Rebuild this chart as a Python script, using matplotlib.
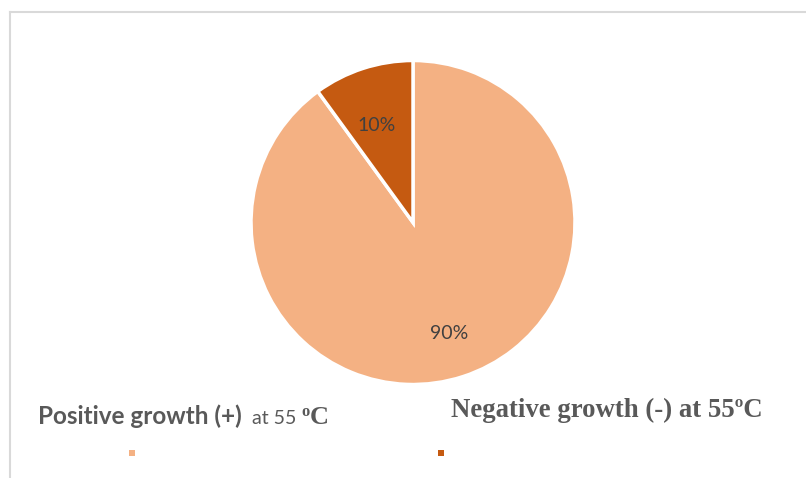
import matplotlib
matplotlib.use("Agg")
import matplotlib.pyplot as plt
from matplotlib.lines import Line2D
import numpy as np

# Share of isolates by growth response at 55 °C
categories = ["Positive growth (+)", "Negative growth (-)"]
shares = [90, 10]
colors = ["#F4B183", "#C55A11"]

W, H = 806, 478
fig = plt.figure(figsize=(W / 100, H / 100), dpi=100)
fig.patch.set_facecolor("white")


def fx(px):
    return px / W


def fy(py):
    return 1 - py / H


# light frame along the top and left edges
fig.add_artist(Line2D([fx(10), 1], [fy(12), fy(12)], color="#D9D9D9", lw=1.5))
fig.add_artist(Line2D([fx(10), fx(10)], [fy(12), 0], color="#D9D9D9", lw=1.5))

# pie occupies a square region centred around (413, 222)
cx, cy, r = 413, 222.5, 162
ax = fig.add_axes([fx(cx - r), fy(cy + r), 2 * r / W, 2 * r / H])
wedges, _ = ax.pie(shares, colors=colors, startangle=90, counterclock=False,
                   wedgeprops=dict(edgecolor="white", linewidth=2.5))
ax.set_xlim(-1, 1)
ax.set_ylim(-1, 1)
ax.set_aspect("auto")
ax.axis("off")

label_dist = [0.72, 0.63]
for w, v, d in zip(wedges, shares, label_dist):
    mid = np.deg2rad((w.theta1 + w.theta2) / 2)
    ax.text(d * np.cos(mid) - (0.03 if v < 50 else 0), d * np.sin(mid), f"{v}%",
            ha="center", va="center", fontsize=14, color="#404040", family="Lato")

# legend-style captions under the pie
fig.canvas.draw()
renderer = fig.canvas.get_renderer()


def run(x_px, y_px, pieces):
    x = x_px
    for txt, kw, dy in pieces:
        t = fig.text(fx(x), fy(y_px - dy), txt, ha="left", va="baseline",
                     color="#595959", **kw)
        bb = t.get_window_extent(renderer)
        x += bb.width


sans_b = dict(family="Lato", fontweight="bold", fontsize=17.5)
sans_r = dict(family="Lato", fontsize=14)
serif_b = dict(family="Liberation Serif", fontweight="bold", fontsize=19)
serif_small = dict(family="Liberation Serif", fontweight="bold", fontsize=12)

run(38, 424, [("Positive growth (+)", sans_b, 0),
              ("  at 55 ", sans_r, 0),
              ("o", serif_small, 8),
              ("C", serif_b, 0)])

fig.text(fx(451), fy(417), "Negative growth (-) at 55ºC", ha="left", va="baseline",
         color="#595959", family="Liberation Serif", fontweight="bold", fontsize=19.3)

# small colour keys
key_ax = fig.add_axes([0, 0, 1, 1], facecolor="none")
key_ax.set_xlim(0, W)
key_ax.set_ylim(H, 0)
key_ax.axis("off")
key_x = [132, 441]
for kx, c in zip(key_x, colors):
    key_ax.scatter([kx], [452.5], marker="s", s=24, color=c, linewidths=0)

fig.savefig("out.png", dpi=100)
